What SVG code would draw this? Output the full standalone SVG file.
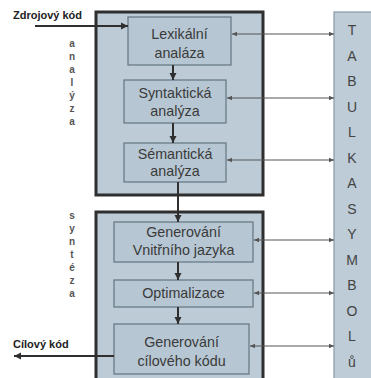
<svg xmlns="http://www.w3.org/2000/svg" width="371" height="378" viewBox="0 0 371 378">
<style>
.outer{fill:#bccbd6;stroke:#2f2f2f;stroke-width:3}
.box{fill:#b6c7d3;stroke:#6b7b88;stroke-width:1.3}
.t{font-family:"Liberation Sans",Arial,sans-serif;font-size:14.3px;fill:#3a3a3a;text-anchor:middle}
.lab{font-family:"Liberation Sans",Arial,sans-serif;font-size:11px;font-weight:bold;fill:#222}
.v{font-family:"Liberation Sans",Arial,sans-serif;font-size:10px;font-weight:bold;fill:#555;text-anchor:middle}
.tab{font-family:"Liberation Sans",Arial,sans-serif;font-size:14px;fill:#444;text-anchor:middle}
.flow{stroke:#2f2f2f;stroke-width:2;fill:none}
.sym{stroke:#555;stroke-width:1;fill:none}
</style>
<defs>
<marker id="ah" markerWidth="8" markerHeight="8" refX="7" refY="4" orient="auto" markerUnits="userSpaceOnUse">
<path d="M0,0.5 L7,4 L0,7.5 Z" fill="#2f2f2f"/>
</marker>
<marker id="sh" markerWidth="6" markerHeight="6" refX="5" refY="3" orient="auto-start-reverse" markerUnits="userSpaceOnUse">
<path d="M0,0.8 L5,3 L0,5.2 Z" fill="#555"/>
</marker>
</defs>
<rect width="371" height="378" fill="#fff"/>
<g id="analyza-block">
<rect class="outer" x="96" y="12" width="167" height="183"/>
</g>
<g id="synteza-block">
<rect class="outer" x="96" y="212" width="167" height="175"/>
</g>
<g id="tabulka">
<rect x="334" y="12" width="40" height="370" fill="#bdccd7" stroke="#8a98a4" stroke-width="1.2"/>
<text class="tab" x="352" y="35">T</text>
<text class="tab" x="352" y="60.5">A</text>
<text class="tab" x="352" y="86">B</text>
<text class="tab" x="352" y="111.5">U</text>
<text class="tab" x="352" y="137">L</text>
<text class="tab" x="352" y="162.5">K</text>
<text class="tab" x="352" y="188">A</text>
<text class="tab" x="352" y="213.5">S</text>
<text class="tab" x="352" y="239">Y</text>
<text class="tab" x="352" y="264.5">M</text>
<text class="tab" x="352" y="290">B</text>
<text class="tab" x="352" y="315.5">O</text>
<text class="tab" x="352" y="341">L</text>
<text class="tab" x="352" y="366.5">ů</text>
</g>
<g id="lexikalni">
<rect class="box" x="128" y="17" width="103" height="48"/>
<text class="t" x="179.5" y="39">Lexikální</text>
<text class="t" x="179.5" y="58">analáza</text>
</g>
<g id="syntakticka">
<rect class="box" x="124" y="80" width="102" height="43"/>
<text class="t" x="175" y="98">Syntaktická</text>
<text class="t" x="175" y="116">analýza</text>
</g>
<g id="semanticka">
<rect class="box" x="124" y="143" width="102" height="39"/>
<text class="t" x="175" y="159">Sémantická</text>
<text class="t" x="175" y="176">analýza</text>
</g>
<g id="generovani-vnitrniho">
<rect class="box" x="114" y="222" width="139" height="40"/>
<text class="t" x="183.5" y="237">Generování</text>
<text class="t" x="183.5" y="255">Vnitřního jazyka</text>
</g>
<g id="optimalizace">
<rect class="box" x="114" y="280" width="139" height="27"/>
<text class="t" x="183.5" y="298">Optimalizace</text>
</g>
<g id="generovani-ciloveho">
<rect class="box" x="114" y="324" width="135" height="50"/>
<text class="t" x="181.5" y="347">Generování</text>
<text class="t" x="181.5" y="366">cílového kódu</text>
</g>
<g id="labels">
<text class="lab" x="13" y="19">Zdrojový kód</text>
<text class="lab" x="13" y="348">Cílový kód</text>
<text class="v" x="72" y="47">a</text>
<text class="v" x="72" y="60">n</text>
<text class="v" x="72" y="73">a</text>
<text class="v" x="72" y="86">l</text>
<text class="v" x="72" y="99">ý</text>
<text class="v" x="72" y="112">z</text>
<text class="v" x="72" y="125">a</text>
<text class="v" x="72" y="219">s</text>
<text class="v" x="72" y="232">y</text>
<text class="v" x="72" y="245">n</text>
<text class="v" x="72" y="258">t</text>
<text class="v" x="72" y="271">é</text>
<text class="v" x="72" y="284">z</text>
<text class="v" x="72" y="297">a</text>
</g>
<g id="connectors">
<line class="flow" x1="35" y1="26" x2="128" y2="26" marker-end="url(#ah)"/>
<line class="flow" x1="173" y1="65" x2="173" y2="80" marker-end="url(#ah)"/>
<line class="flow" x1="173" y1="123" x2="173" y2="143" marker-end="url(#ah)"/>
<line class="flow" x1="178" y1="182" x2="178" y2="222" marker-end="url(#ah)"/>
<line class="flow" x1="178" y1="262" x2="178" y2="280" marker-end="url(#ah)"/>
<line class="flow" x1="178" y1="307" x2="178" y2="324" marker-end="url(#ah)"/>
<line class="flow" x1="114" y1="356" x2="14" y2="356" marker-end="url(#ah)"/>
<line class="sym" x1="232" y1="34" x2="334" y2="34" marker-start="url(#sh)" marker-end="url(#sh)"/>
<line class="sym" x1="227" y1="98" x2="334" y2="98" marker-start="url(#sh)" marker-end="url(#sh)"/>
<line class="sym" x1="227" y1="160" x2="334" y2="160" marker-start="url(#sh)" marker-end="url(#sh)"/>
<line class="sym" x1="254" y1="240" x2="334" y2="240" marker-start="url(#sh)" marker-end="url(#sh)"/>
<line class="sym" x1="254" y1="293" x2="334" y2="293" marker-start="url(#sh)" marker-end="url(#sh)"/>
<line class="sym" x1="250" y1="346" x2="334" y2="346" marker-start="url(#sh)" marker-end="url(#sh)"/>
</g>
</svg>
